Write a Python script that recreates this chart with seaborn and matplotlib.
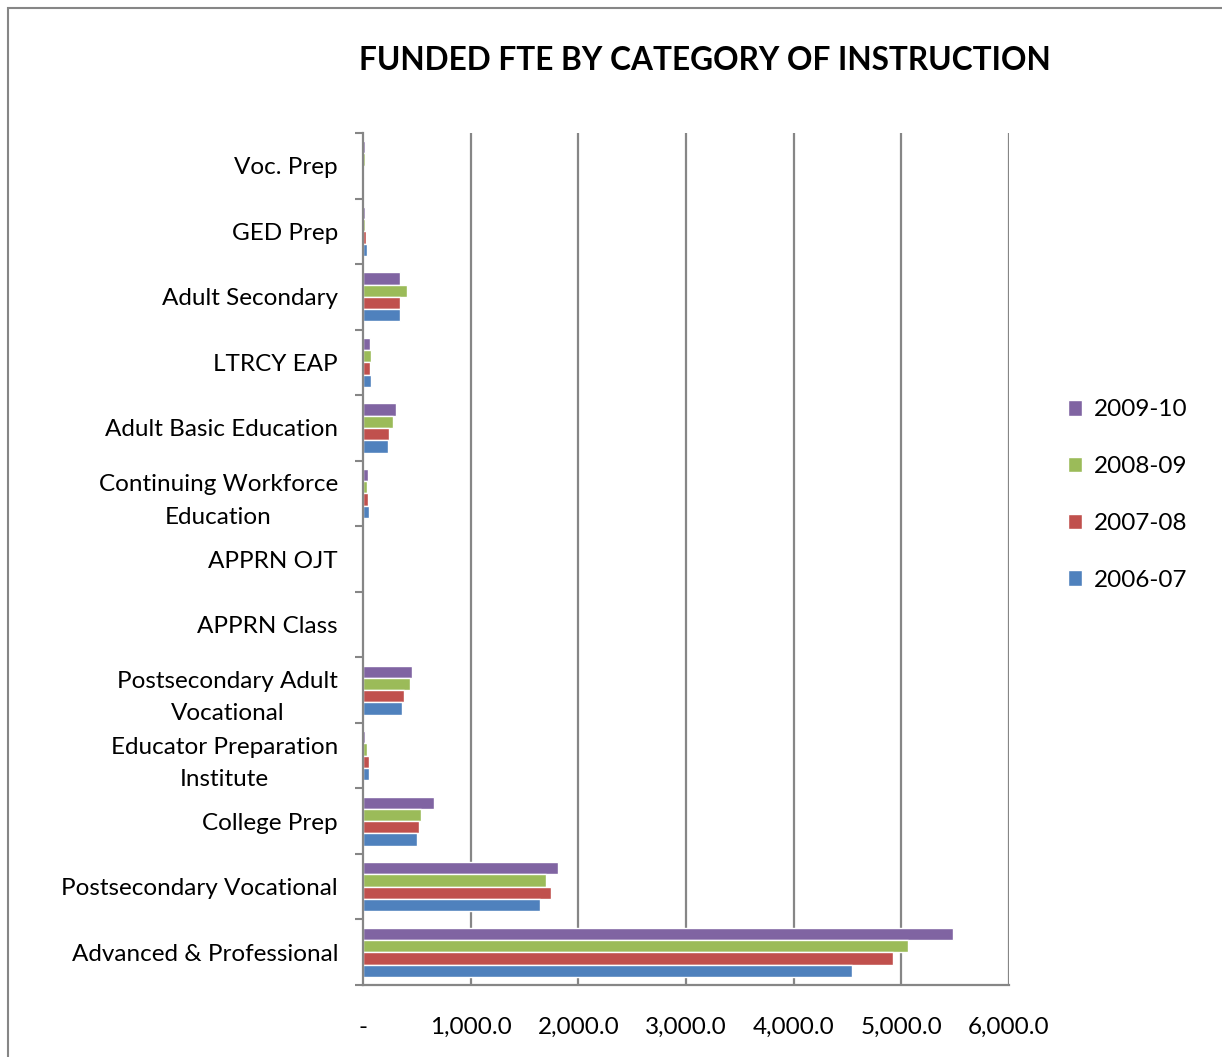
import pandas as pd
import seaborn as sns
import matplotlib.pyplot as plt
from matplotlib.patches import Rectangle

# --- data ---
categories = [
    "Voc. Prep",
    "GED Prep",
    "Adult Secondary",
    "LTRCY EAP",
    "Adult Basic Education",
    "Continuing Workforce\nEducation",
    "APPRN OJT",
    "APPRN Class",
    "Postsecondary Adult\nVocational",
    "Educator Preparation\nInstitute",
    "College Prep",
    "Postsecondary Vocational",
    "Advanced & Professional",
]
years = ["2009-10", "2008-09", "2007-08", "2006-07"]
fte_2009_10 = [19, 22, 340, 62, 306, 50, 0, 0, 459, 22, 662, 1812, 5481]
fte_2008_09 = [15, 20, 406, 78, 281, 40, 0, 0, 434, 40, 542, 1704, 5065]
fte_2007_08 = [12, 28, 344, 62, 240, 44, 0, 0, 378, 56, 523, 1746, 4919]
fte_2006_07 = [0, 35, 340, 75, 234, 53, 0, 0, 359, 56, 500, 1642, 4538]
x_ticks = [0, 1000, 2000, 3000, 4000, 5000, 6000]
x_tick_labels = ["-", "1,000.0", "2,000.0", "3,000.0", "4,000.0", "5,000.0", "6,000.0"]

colors = ["#8064A2", "#9BBB59", "#C0504D", "#4F81BD"]

rows = []
for year, vals in zip(years, [fte_2009_10, fte_2008_09, fte_2007_08, fte_2006_07]):
    for cat, v in zip(categories, vals):
        rows.append({"category": cat, "year": year, "fte": v})
df = pd.DataFrame(rows)

sns.set_style("white")
plt.rcParams["font.family"] = ["Lato", "DejaVu Sans"]
plt.rcParams["text.color"] = "black"
plt.rcParams["xtick.color"] = "black"
plt.rcParams["ytick.color"] = "black"

fs = 17.5

fig = plt.figure(figsize=(12.22, 10.57), dpi=100)
ax = fig.add_axes([363 / 1222, 1 - 985 / 1057, (1009 - 363) / 1222, (985 - 133) / 1057])

sns.barplot(data=df, y="category", x="fte", hue="year", order=categories,
            hue_order=years, palette=colors, orient="h", width=0.75,
            saturation=1, ax=ax, legend=True)

ax.set_xlim(0, 6000)
ax.set_ylim(len(categories) - 0.5, -0.5)
ax.set_xlabel("")
ax.set_ylabel("")

grid_c = "#868686"
ax.set_xticks(x_ticks)
ax.set_xticklabels(x_tick_labels, fontsize=fs)
for x in x_ticks[1:]:
    ax.axvline(x, color=grid_c, lw=1.6, zorder=0)
ax.tick_params(axis="x", length=6, width=1.5, color=grid_c, labelcolor="black",
               pad=17, direction="out")

# category labels at centres, boundary ticks as minor ticks
ax.set_yticks(range(len(categories)))
ax.set_yticklabels(categories, fontsize=fs, multialignment="center", linespacing=1.65)
ax.tick_params(axis="y", which="major", length=0, pad=18, labelcolor="black")
ax.set_yticks([i - 0.5 for i in range(len(categories) + 1)], minor=True)
ax.tick_params(axis="y", which="minor", length=6, width=1.5, color=grid_c, left=True)

for side in ["top", "right"]:
    ax.spines[side].set_visible(False)
for side in ["left", "bottom"]:
    ax.spines[side].set_color(grid_c)
    ax.spines[side].set_linewidth(1.6)

handles, labels = ax.get_legend_handles_labels()
ax.legend(handles, labels, loc="center left", bbox_to_anchor=(1046 / 1222, 1 - 495 / 1057),
          bbox_transform=fig.transFigure, frameon=False, fontsize=fs,
          handlelength=0.6, handleheight=0.6, handletextpad=0.45, labelspacing=1.47)

fig.text(705 / 1222, 1 - 60 / 1057, "FUNDED FTE BY CATEGORY OF INSTRUCTION",
         ha="center", va="center", fontsize=22.8, fontweight="bold")

fig.patches.append(Rectangle((8 / 1222, -0.1), 1.2, 1 - 8 / 1057 + 0.1,
                             transform=fig.transFigure, fill=False,
                             edgecolor=grid_c, lw=1.5))

fig.savefig("out.png", dpi=100)
